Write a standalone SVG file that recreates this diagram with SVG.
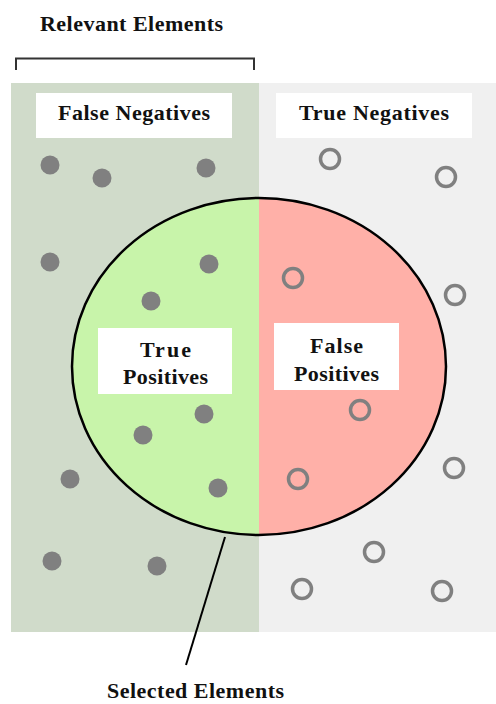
<svg xmlns="http://www.w3.org/2000/svg" width="496" height="704" viewBox="0 0 496 704">
<style>
.t{font-family:"Liberation Serif","Times New Roman",serif;font-weight:bold;fill:#111;text-anchor:middle;font-size:22px}
.dot{fill:#808080}
.ring{fill:none;stroke:#808080;stroke-width:3.5}
.box{fill:#fff}
</style>
<defs>
<clipPath id="cl"><rect x="0" y="0" width="259" height="704"/></clipPath>
<clipPath id="cr"><rect x="259" y="0" width="237" height="704"/></clipPath>
</defs>
<rect width="496" height="704" fill="#fff"/>
<g id="relevant">
<rect x="11" y="83" width="248" height="549" fill="#d0dbca"/>
<text class="t" x="131.5" y="31" textLength="183" lengthAdjust="spacing">Relevant Elements</text>
<path d="M16 70V58.5H254V70" fill="none" stroke="#333" stroke-width="2"/>
</g>
<g id="irrelevant">
<rect x="259" y="83" width="237" height="549" fill="#f0f0f0"/>
</g>
<g id="selected">
<ellipse cx="259" cy="366.5" rx="187" ry="168.5" fill="#c8f4aa" clip-path="url(#cl)"/>
<ellipse cx="259" cy="366.5" rx="187" ry="168.5" fill="#ffb0a8" clip-path="url(#cr)"/>
<ellipse cx="259" cy="366.5" rx="187" ry="168.5" fill="none" stroke="#000" stroke-width="2.5"/>
</g>
<g id="dots">
<circle class="dot" cx="50" cy="165" r="9.5"/>
<circle class="dot" cx="102" cy="178" r="9.5"/>
<circle class="dot" cx="206" cy="168" r="9.5"/>
<circle class="dot" cx="50" cy="262" r="9.5"/>
<circle class="dot" cx="209" cy="264" r="9.5"/>
<circle class="dot" cx="151" cy="301" r="9.5"/>
<circle class="dot" cx="204" cy="414" r="9.5"/>
<circle class="dot" cx="143" cy="435" r="9.5"/>
<circle class="dot" cx="70" cy="479" r="9.5"/>
<circle class="dot" cx="218" cy="488" r="9.5"/>
<circle class="dot" cx="52" cy="561" r="9.5"/>
<circle class="dot" cx="157" cy="566" r="9.5"/>
<circle class="ring" cx="330" cy="159" r="9.5"/>
<circle class="ring" cx="446" cy="177" r="9.5"/>
<circle class="ring" cx="293" cy="278" r="9.5"/>
<circle class="ring" cx="455" cy="295" r="9.5"/>
<circle class="ring" cx="360" cy="410" r="9.5"/>
<circle class="ring" cx="454" cy="468" r="9.5"/>
<circle class="ring" cx="298" cy="479" r="9.5"/>
<circle class="ring" cx="374" cy="552" r="9.5"/>
<circle class="ring" cx="302" cy="589" r="9.5"/>
<circle class="ring" cx="442" cy="591" r="9.5"/>
</g>
<g id="fn">
<rect class="box" x="36" y="93" width="196" height="45"/>
<text class="t" x="134" y="120" textLength="152" lengthAdjust="spacing">False Negatives</text>
</g>
<g id="tn">
<rect class="box" x="276" y="93" width="196" height="45"/>
<text class="t" x="374" y="120" textLength="150" lengthAdjust="spacing">True Negatives</text>
</g>
<g id="tp">
<rect class="box" x="98" y="328" width="134" height="66"/>
<text class="t" x="165.5" y="357" textLength="51" lengthAdjust="spacing">True</text>
<text class="t" x="165.5" y="384" textLength="85" lengthAdjust="spacing">Positives</text>
</g>
<g id="fp">
<rect class="box" x="274" y="323" width="125" height="67"/>
<text class="t" x="336.5" y="353" textLength="53" lengthAdjust="spacing">False</text>
<text class="t" x="336.5" y="381" textLength="85" lengthAdjust="spacing">Positives</text>
</g>
<g id="connectors">
<line x1="225" y1="537" x2="186" y2="665" stroke="#000" stroke-width="2"/>
</g>
<g id="selected-label">
<text class="t" x="195.5" y="698" textLength="177" lengthAdjust="spacing">Selected Elements</text>
</g>
</svg>
